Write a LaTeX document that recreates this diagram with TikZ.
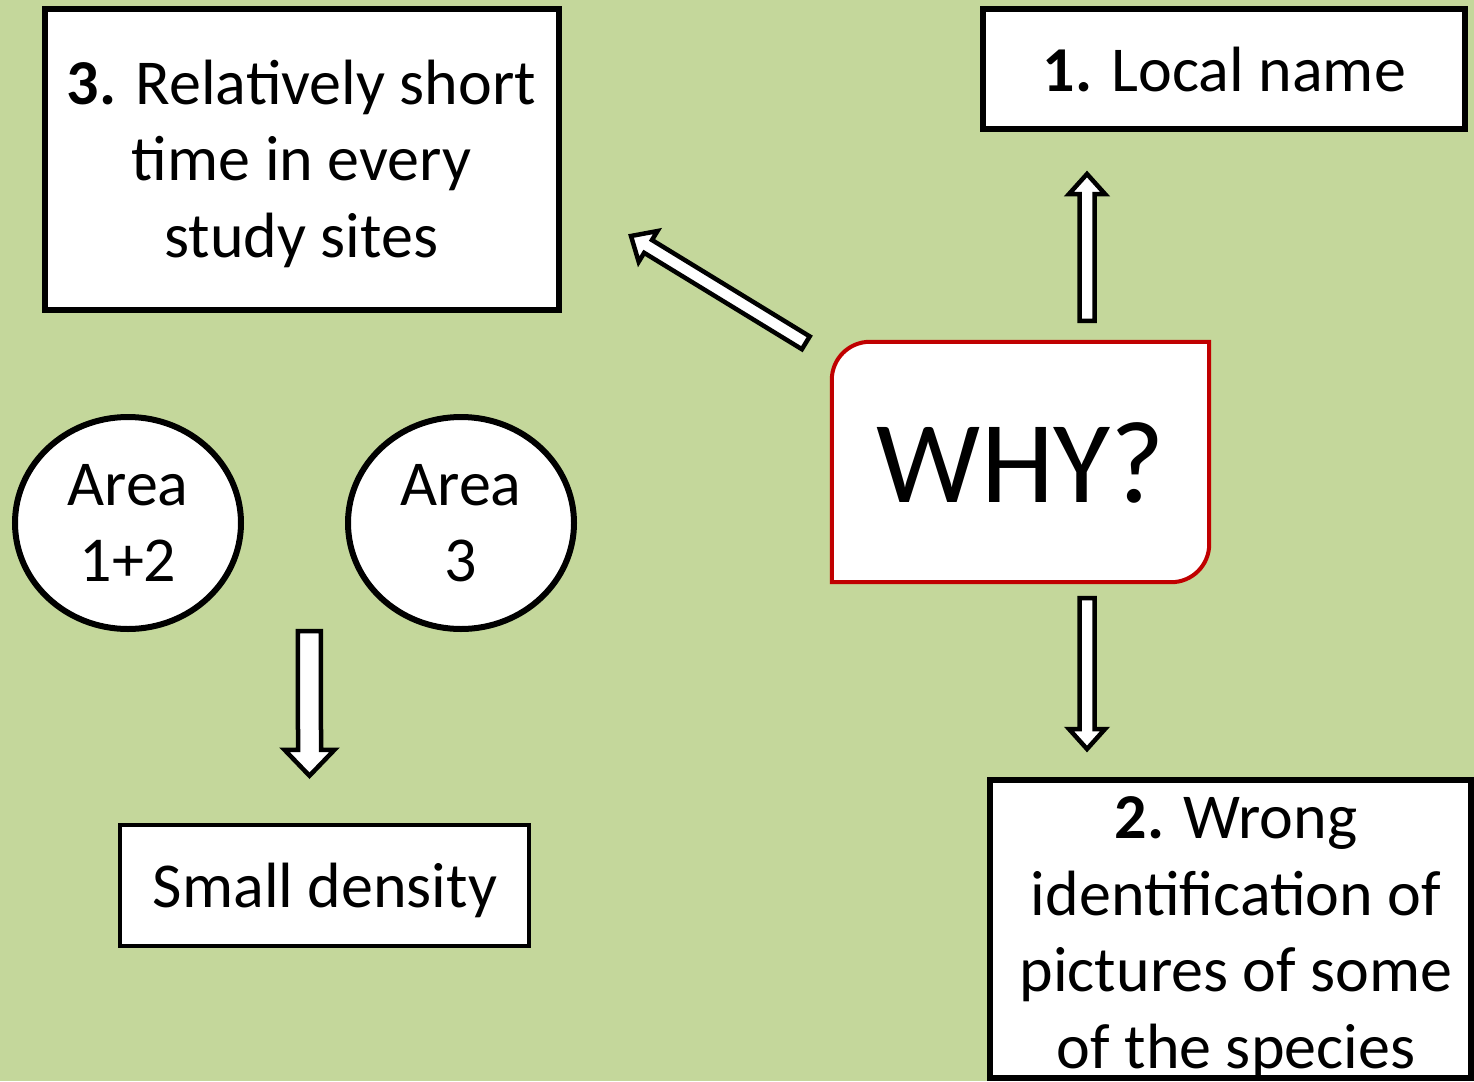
\documentclass[tikz,border=0pt]{standalone}
\usepackage{fontspec}
\setmainfont{Carlito}
\usetikzlibrary{calc,backgrounds,shapes.geometric}
\definecolor{leaf}{RGB}{196,215,155}
\definecolor{alarm}{RGB}{192,0,0}

\tikzset{
  panel/.style={draw=black, line width=6pt, fill=white, rectangle, inner sep=0pt},
  bubble/.style={draw=black, line width=6pt, fill=white, ellipse, inner sep=0pt,
    minimum width=226pt, minimum height=212pt, align=center,
    font=\fontsize{64}{76}\selectfont},
  caption/.style={font=\fontsize{64}{76.5}\selectfont, align=center, inner sep=0pt, anchor=base},
  blockline/.style={draw=black, fill=white, line width=4.5pt, line join=miter},
}

% hollow block arrow from #1 to #2: shaft half width #3, head half width #4, head length #5
\newcommand\blockarrow[5]{%
  \coordinate (headbase) at ($(#2)!#5!(#1)$);
  \draw[blockline]
    ($(#1)!#3!90:(#2)$) -- ($(headbase)!#3!90:(#2)$) -- ($(headbase)!#4!90:(#2)$)
    -- (#2)
    -- ($(headbase)!#4!-90:(#2)$) -- ($(headbase)!#3!-90:(#2)$) -- ($(#1)!#3!-90:(#2)$)
    -- cycle;
}

\begin{document}
\begin{tikzpicture}[x=1pt, y=-1pt]
  \useasboundingbox (0,0) rectangle (1474,1081);

  % boxes
  \node[panel, minimum width=514pt, minimum height=301pt] (short) at (302,159.5) {};
  \node[panel, minimum width=482pt, minimum height=120pt] (local) at (1224,69) {};
  \node[panel, minimum width=481pt, minimum height=298pt] (wrong) at (1230.5,929) {};
  \node[panel, line width=4.5pt, minimum width=409pt, minimum height=121pt] (dens) at (324.5,885.5) {};
  \node[rectangle, inner sep=0pt, minimum width=377pt, minimum height=240pt] (why) at (1020.5,462) {};

  % texts (multi-line texts are placed by the baseline of their last line)
  \node[caption] (shorttxt) at (301.5,257) {\textbf{3.} Relatively short\\time in every\\study sites};
  \node[caption] (localtxt) at (1224.5,92) {\textbf{1.} Local name};
  \node[caption] (wrongtxt) at (1236,1068) {\textbf{2.} Wrong\\identification of\\pictures of some\\of the species};
  \node[caption] (denstxt) at (325,907) {Small density};
  \node[caption, font=\fontsize{117}{140}\selectfont] (whytxt) at (1021,502) {WHY?};

  % areas
  \node[bubble] (a12) at (128,523) {Area\\1+2};
  \node[bubble] (a3) at (461,523) {Area\\3};

  % arrow end points
  \coordinate (upA) at ($(why.north)+(66.5,-21)$);
  \coordinate (upB) at ($(local.south)+(-137,42)$);
  \coordinate (dnA) at ($(why.south)+(66.5,16)$);
  \coordinate (dnB) at ($(wrong.north)+(-143.5,-28)$);
  \coordinate (dgA) at ($(why.north west)+(-26,1)$);
  \coordinate (dgB) at ($(short.south east)+(69,-77)$);
  \coordinate (arA) at ($(a12.south)!0.545!(a3.south) + (0,-1)$);
  \coordinate (arB) at ($(dens.north)+(-15,-47)$);

  \blockarrow{upA}{upB}{7.5pt}{18pt}{20pt}
  \blockarrow{dnA}{dnB}{7.5pt}{18pt}{20pt}
  \blockarrow{dgA}{dgB}{7.5pt}{18pt}{20pt}
  \blockarrow{arA}{arB}{11.5pt}{25pt}{26pt}

  \begin{scope}[on background layer]
    \fill[leaf] (0,0) rectangle (1474,1081);
    \draw[alarm, fill=white, line width=4pt]
      (why.south west) -- ($(why.north west)+(0,38)$)
      .. controls ($(why.north west)+(0,17)$) and ($(why.north west)+(17,0)$) .. ($(why.north west)+(38,0)$)
      -- (why.north east) -- ($(why.south east)+(0,-38)$)
      .. controls ($(why.south east)+(0,-17)$) and ($(why.south east)+(-17,0)$) .. ($(why.south east)+(-38,0)$)
      -- cycle;
  \end{scope}
\end{tikzpicture}
\end{document}
